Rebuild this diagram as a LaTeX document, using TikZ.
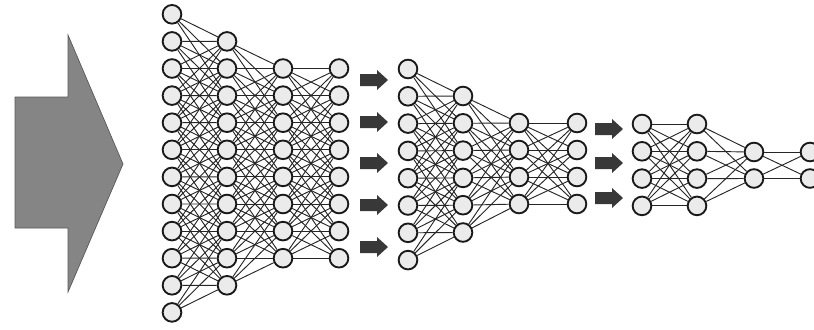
\documentclass[tikz,border=0pt]{standalone}
\usepackage{amsmath}
\usetikzlibrary{arrows.meta,positioning}
\usetikzlibrary{calc}

\begin{document}
\begin{tikzpicture}[
    x=0.3mm, y=-0.3mm,
    neuron/.style={circle,draw=black!90,fill=black!8,line width=1.6pt,minimum size=5.6mm,inner sep=0pt},
    link/.style={draw=black!85,line width=0.8pt},
    fatarrow/.style={fill=black!78},
    bigarrow/.style={fill=black!48,draw=black!65,line width=0.6pt},
]

\clip (0,0) rectangle (814,329);

% =====================================================
% Input arrow
% =====================================================

\path[bigarrow]
    (15,97) -- (68,97) -- (68,35) -- (123,164)
    -- (68,292) -- (68,228) -- (15,228) -- cycle;

% =====================================================
% Network 1 : 12 - 10 - 8 - 8
% =====================================================

\foreach \i in {0,...,11}
    \node[neuron] (a1-\i) at (172,{14.3+27.1*\i}) {};
\foreach \i in {0,...,9}
    \node[neuron] (a2-\i) at (227,{41.4+27.1*\i}) {};
\foreach \i in {0,...,7}
    \node[neuron] (a3-\i) at (283,{68.5+27.1*\i}) {};
\foreach \i in {0,...,7}
    \node[neuron] (a4-\i) at (339,{68.5+27.1*\i}) {};

\foreach \i in {0,...,11}
    \foreach \j in {0,...,9} {
        \pgfmathtruncatemacro\d{abs(\i-\j-1)}
        \ifnum\d<4 \draw[link] (a1-\i) -- (a2-\j); \fi
    }
\foreach \i in {0,...,9}
    \foreach \j in {0,...,7} {
        \pgfmathtruncatemacro\d{abs(\i-\j-1)}
        \ifnum\d<4 \draw[link] (a2-\i) -- (a3-\j); \fi
    }
\foreach \i in {0,...,7}
    \foreach \j in {0,...,7} {
        \pgfmathtruncatemacro\d{abs(\i-\j)}
        \ifnum\d<4 \draw[link] (a3-\i) -- (a4-\j); \fi
    }

\foreach \y in {80,122,163,205,247}
    \fill[fatarrow] (360,\y) ++(0,-6) -- ++(17,0) -- ++(0,-4)
        -- ++(11,10) -- ++(-11,10) -- ++(0,-4) -- ++(-17,0) -- cycle;

% =====================================================
% Network 2 : 8 - 6 - 4 - 4
% =====================================================

\foreach \i in {0,...,7}
    \node[neuron] (b1-\i) at (408,{69+27.3*\i}) {};
\foreach \i in {0,...,5}
    \node[neuron] (b2-\i) at (463,{96+27.3*\i}) {};
\foreach \i in {0,...,3}
    \node[neuron] (b3-\i) at (519,{123+27*\i}) {};
\foreach \i in {0,...,3}
    \node[neuron] (b4-\i) at (577,{123+27*\i}) {};

\foreach \i in {0,...,7}
    \foreach \j in {0,...,5} {
        \pgfmathtruncatemacro\d{abs(\i-\j-1)}
        \ifnum\d<4 \draw[link] (b1-\i) -- (b2-\j); \fi
    }
\foreach \i in {0,...,5}
    \foreach \j in {0,...,3} {
        \pgfmathtruncatemacro\d{abs(\i-\j-1)}
        \ifnum\d<4 \draw[link] (b2-\i) -- (b3-\j); \fi
    }
\foreach \i in {0,...,3}
    \foreach \j in {0,...,3}
        \draw[link] (b3-\i) -- (b4-\j);

\foreach \y in {129,163,198}
    \fill[fatarrow] (595,\y) ++(0,-6) -- ++(17,0) -- ++(0,-4)
        -- ++(11,10) -- ++(-11,10) -- ++(0,-4) -- ++(-17,0) -- cycle;

% =====================================================
% Network 3 : 4 - 4 - 2 - 2
% =====================================================

\foreach \i in {0,...,3}
    \node[neuron] (c1-\i) at (642,{124+27.3*\i}) {};
\foreach \i in {0,...,3}
    \node[neuron] (c2-\i) at (697,{124+27.3*\i}) {};
\foreach \i in {0,1}
    \node[neuron] (c3-\i) at (754,{152+26.5*\i}) {};
\foreach \i in {0,1}
    \node[neuron] (c4-\i) at (810,{152+26.5*\i}) {};

\foreach \i in {0,...,3}
    \foreach \j in {0,...,3}
        \draw[link] (c1-\i) -- (c2-\j);
\foreach \i in {0,...,3}
    \foreach \j in {0,1}
        \draw[link] (c2-\i) -- (c3-\j);
\foreach \i in {0,1}
    \foreach \j in {0,1}
        \draw[link] (c3-\i) -- (c4-\j);

\end{tikzpicture}
\end{document}
